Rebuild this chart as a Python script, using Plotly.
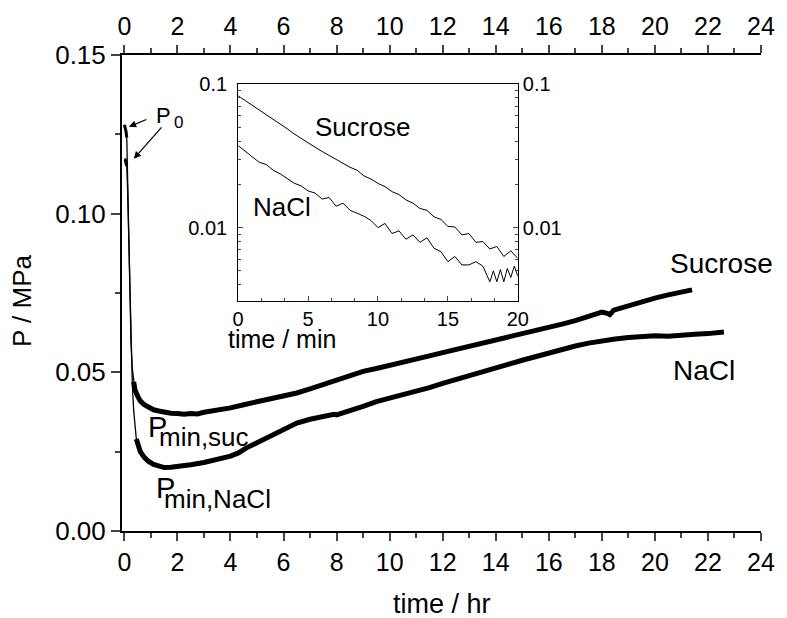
import plotly.graph_objects as go

# ---------------- main panel data (time in hr, P in MPa) ----------------
suc_t = [0.00, 0.03, 0.06, 0.09, 0.12, 0.15, 0.18, 0.21, 0.25, 0.30, 0.35, 0.40, 0.50, 0.60,
         0.75, 0.90, 1.10, 1.30, 1.50, 1.75, 2.00, 2.25, 2.50, 2.75, 3.00, 3.50, 4.00, 4.50,
         5.00, 5.50, 6.00, 6.50, 7.00, 7.50, 8.00, 8.50, 9.00, 9.50, 10.0, 10.5, 11.0, 11.5,
         12.0, 12.5, 13.0, 13.5, 14.0, 14.5, 15.0, 15.5, 16.0, 16.5, 17.0, 17.5, 18.0, 18.2,
         18.3, 18.45, 19.0, 19.5, 20.0, 20.5, 21.0, 21.4]
suc_p = [0.128, 0.127, 0.126, 0.124, 0.112, 0.098, 0.083, 0.070, 0.059, 0.051, 0.047, 0.0445,
         0.0425, 0.0410, 0.0398, 0.0390, 0.0382, 0.0378, 0.0374, 0.0371, 0.0370, 0.0368,
         0.0370, 0.0369, 0.0374, 0.0380, 0.0388, 0.0398, 0.0407, 0.0415, 0.0425, 0.0435,
         0.0448, 0.0462, 0.0478, 0.0492, 0.0503, 0.0512, 0.0521, 0.0532, 0.0543, 0.0552,
         0.0562, 0.0572, 0.0581, 0.0592, 0.0600, 0.0610, 0.0619, 0.0630, 0.0640, 0.0652,
         0.0663, 0.0675, 0.0690, 0.0686, 0.0682, 0.0696, 0.0710, 0.0724, 0.0734, 0.0744,
         0.0752, 0.0760]

nacl_t = [0.00, 0.03, 0.06, 0.09, 0.12, 0.15, 0.18, 0.21, 0.25, 0.30, 0.35, 0.40, 0.45, 0.50,
          0.60, 0.75, 0.90, 1.10, 1.30, 1.50, 1.75, 2.00, 2.50, 3.00, 3.50, 4.00, 4.30, 4.60,
          5.00, 5.50, 6.00, 6.50, 7.00, 7.50, 7.90, 8.00, 8.50, 9.00, 9.50, 10.0, 10.5, 11.0,
          11.5, 12.0, 12.5, 13.0, 13.5, 14.0, 14.5, 15.0, 15.5, 16.0, 16.5, 17.0, 17.5, 18.0,
          18.5, 19.0, 19.5, 20.0, 20.5, 21.0, 21.5, 22.0, 22.6]
nacl_p = [0.117, 0.117, 0.116, 0.115, 0.108, 0.098, 0.085, 0.072, 0.058, 0.046, 0.038, 0.032,
          0.029, 0.0272, 0.0250, 0.0232, 0.0220, 0.0210, 0.0204, 0.0200, 0.0201, 0.0203,
          0.0209, 0.0216, 0.0225, 0.0236, 0.0246, 0.0262, 0.0278, 0.0298, 0.0318, 0.0340,
          0.0352, 0.0362, 0.0368, 0.0366, 0.0378, 0.0393, 0.0408, 0.0418, 0.0428, 0.0440,
          0.0452, 0.0465, 0.0478, 0.0490, 0.0502, 0.0514, 0.0526, 0.0538, 0.0550, 0.0562,
          0.0573, 0.0583, 0.0592, 0.0600, 0.0605, 0.0610, 0.0613, 0.0615, 0.0614, 0.0618,
          0.0620, 0.0622, 0.0627]

# ---------------- inset data (time in min, P in MPa, log scale) ----------------
ins_suc_t = [0, 0.5, 1, 1.5, 2, 2.5, 3, 3.5, 4, 4.5, 5, 5.5, 6, 6.5, 7, 7.5, 8, 8.5, 9, 9.5,
             10, 10.5, 11, 11.5, 12, 12.5, 13, 13.5, 14, 14.5, 15, 15.5, 16, 16.5, 17, 17.5,
             18, 18.5, 19, 19.5, 20]
ins_suc_p = [0.0826, 0.0767, 0.0711, 0.0661, 0.0614, 0.0569, 0.0525, 0.0488, 0.0449, 0.0417,
             0.0387, 0.0363, 0.0339, 0.0318, 0.0299, 0.0283, 0.0263, 0.0251, 0.0229, 0.0218,
             0.0203, 0.0193, 0.0178, 0.0170, 0.0156, 0.0148, 0.0136, 0.0132, 0.0119, 0.0114,
             0.0102, 0.0101, 0.0089, 0.0091, 0.0079, 0.0080, 0.0071, 0.0074, 0.0063, 0.0069,
             0.0061]
ins_nacl_t = [0, 0.5, 1, 1.5, 2, 2.5, 3, 3.5, 4, 4.5, 5, 5.5, 6, 6.5, 7, 7.5, 8, 8.5, 9, 9.5,
              10, 10.5, 11, 11.5, 12, 12.5, 13, 13.5, 14, 14.5, 15, 15.5, 16, 16.5, 17, 17.5,
              18, 18.25, 18.5, 18.75, 19, 19.25, 19.5, 19.75, 20]
ins_nacl_p = [0.0372, 0.0339, 0.0313, 0.0285, 0.0275, 0.0251, 0.0237, 0.0219, 0.0204, 0.0195,
              0.0180, 0.0174, 0.0158, 0.0162, 0.0141, 0.0148, 0.0132, 0.0126, 0.0120, 0.0112,
              0.0100, 0.0107, 0.0091, 0.0095, 0.0083, 0.0089, 0.0079, 0.0085, 0.0072, 0.0068,
              0.0058, 0.0063, 0.0055, 0.0055, 0.0058, 0.0054, 0.0042, 0.0050, 0.0042, 0.0051,
              0.0042, 0.0052, 0.0045, 0.0054, 0.0046]

x_tick_vals = list(range(0, 25, 2))
y_tick_vals = [0.00, 0.05, 0.10, 0.15]
inset_x_ticks = [0, 5, 10, 15, 20]
inset_y_ticks = [0.01, 0.1]
inset_y_labels = ["0.01", "0.1"]

FONT = "Liberation Sans, Arial, sans-serif"
W, H = 787, 618
L, R, T, B = 122, 771, 54, 531


def px2paper(px, py):
    return (px - L) / (R - L), (B - py) / (B - T)


fig = go.Figure()
line_col = "black"
suc_cut = next(i for i, t in enumerate(suc_t) if t >= 0.35)
nacl_cut = next(i for i, t in enumerate(nacl_t) if t >= 0.45)
fig.add_trace(go.Scatter(x=suc_t, y=suc_p, mode="lines", line=dict(color=line_col, width=1.3),
                         hoverinfo="skip"))
fig.add_trace(go.Scatter(x=suc_t[suc_cut:], y=suc_p[suc_cut:], mode="lines",
                         line=dict(color=line_col, width=5), hoverinfo="skip"))
fig.add_trace(go.Scatter(x=suc_t[:4], y=suc_p[:4], mode="lines",
                         line=dict(color=line_col, width=3), hoverinfo="skip"))
fig.add_trace(go.Scatter(x=nacl_t, y=nacl_p, mode="lines", line=dict(color=line_col, width=1.3),
                         hoverinfo="skip"))
fig.add_trace(go.Scatter(x=nacl_t[nacl_cut:], y=nacl_p[nacl_cut:], mode="lines",
                         line=dict(color=line_col, width=5), hoverinfo="skip"))
fig.add_trace(go.Scatter(x=nacl_t[:4], y=nacl_p[:4], mode="lines",
                         line=dict(color=line_col, width=3), hoverinfo="skip"))
# carrier for the top axis
fig.add_trace(go.Scatter(x=suc_t, y=suc_p, xaxis="x2", yaxis="y", mode="lines",
                         line=dict(width=0), opacity=0, hoverinfo="skip"))
# inset
fig.add_trace(go.Scatter(x=ins_suc_t, y=ins_suc_p, xaxis="x3", yaxis="y3", mode="lines",
                         line=dict(color=line_col, width=1), hoverinfo="skip"))
fig.add_trace(go.Scatter(x=ins_nacl_t, y=ins_nacl_p, xaxis="x3", yaxis="y3", mode="lines",
                         line=dict(color=line_col, width=1), hoverinfo="skip"))
fig.add_trace(go.Scatter(x=ins_suc_t, y=ins_suc_p, xaxis="x3", yaxis="y4", mode="lines",
                         line=dict(width=0), opacity=0, hoverinfo="skip"))

tick_font = dict(family=FONT, size=25, color="black")
ytick_font = dict(family=FONT, size=26, color="black")
inset_font = dict(family=FONT, size=20, color="black")

x0 = -0.09
fig.update_layout(
    width=W, height=H, showlegend=False,
    paper_bgcolor="white", plot_bgcolor="white",
    margin=dict(l=L, r=W - R, t=T, b=H - B, pad=0),
    font=dict(family=FONT, color="black"),
    xaxis=dict(range=[x0, 24], tickvals=x_tick_vals, ticks="outside", ticklen=8, tickwidth=2,
               showline=True, linewidth=2, linecolor="black", showgrid=False, zeroline=False,
               tickfont=tick_font, minor=dict(ticks="outside", ticklen=5, tickwidth=2,
                                              dtick=1, tick0=0, showgrid=False),
               domain=[0, 1], anchor="y"),
    xaxis2=dict(range=[x0, 24], tickvals=x_tick_vals, ticks="outside", ticklen=8, tickwidth=2,
                showline=True, linewidth=2, linecolor="black", showgrid=False, zeroline=False,
                tickfont=tick_font, overlaying="x", side="top", anchor="y",
                minor=dict(ticks="outside", ticklen=5, tickwidth=2, dtick=1, tick0=0,
                           showgrid=False)),
    yaxis=dict(range=[0, 0.15], tickvals=y_tick_vals, tickformat=".2f", ticks="outside",
               ticklen=9, tickwidth=2, showline=True, linewidth=2, linecolor="black",
               showgrid=False, zeroline=False, tickfont=ytick_font, domain=[0, 1], anchor="x",
               minor=dict(ticks="outside", ticklen=5, tickwidth=2, dtick=0.025, tick0=0,
                          showgrid=False)),
)

ix0, iy0 = px2paper(240, 301)
ix1, iy1 = px2paper(524, 83)
fig.update_layout(
    xaxis3=dict(domain=[ix0, ix1], anchor="y3", range=[0, 20], tickvals=inset_x_ticks,
                ticks="inside", ticklen=5, tickwidth=1, showline=True, linewidth=1,
                linecolor="black", mirror=True, showgrid=False, zeroline=False,
                tickfont=inset_font,
                minor=dict(ticks="inside", ticklen=3, dtick=5 / 3, tick0=0, showgrid=False)),
    yaxis3=dict(domain=[iy0, iy1], anchor="x3", type="log",
                range=[-2.514, -1.0], tickvals=inset_y_ticks, ticktext=inset_y_labels,
                ticks="inside", ticklen=5, tickwidth=1, showline=True, linewidth=1,
                linecolor="black", mirror="allticks", showgrid=False, zeroline=False,
                tickfont=inset_font, ticklabelstandoff=6,
                minor=dict(ticks="inside", ticklen=3, dtick="D1", showgrid=False)),
    yaxis4=dict(overlaying="y3", side="right", anchor="x3", type="log",
                range=[-2.514, -1.0], tickvals=inset_y_ticks, ticktext=inset_y_labels,
                ticks="", showline=False, showgrid=False, zeroline=False, tickfont=inset_font,
                ticklabelstandoff=4),
)

annotations = []


def add_text(text, px, py, size=26, xanchor="center", angle=0):
    ax_, ay_ = px2paper(px, py)
    annotations.append(dict(text=text, x=ax_, y=ay_, xref="paper", yref="paper",
                            showarrow=False, xanchor=xanchor, yanchor="middle",
                            textangle=angle,
                            font=dict(family=FONT, size=size, color="black")))


add_text("time / hr", 447, 604, size=27)
add_text("P / MPa", 21, 300, size=26, angle=-90)
add_text("time / min", 285, 339, size=25)
add_text("Sucrose", 366, 126, size=26)
add_text("NaCl", 285, 206, size=26)
add_text("Sucrose", 731, 263, size=28)
add_text("NaCl", 713, 370, size=28)
# P0 with subscript
add_text("P", 154, 115, size=22, xanchor="left")
add_text("0", 173, 122, size=17, xanchor="left")
# P_min,suc
add_text("P", 146, 427, size=29, xanchor="left")
add_text("min,suc", 158, 437, size=26, xanchor="left")
# P_min,NaCl
add_text("P", 155, 488, size=29, xanchor="left")
add_text("min,NaCl", 163, 499, size=26, xanchor="left")


def add_arrow(head_px, head_py, tail_px, tail_py):
    hx, hy = px2paper(head_px, head_py)
    annotations.append(dict(text="", x=hx, y=hy, xref="paper", yref="paper",
                            ax=tail_px - head_px, ay=tail_py - head_py, showarrow=True,
                            arrowhead=2, arrowsize=1.2, arrowwidth=1.2, arrowcolor="black"))


add_arrow(129, 126, 148, 118)
add_arrow(134, 158, 163, 125)

fig.update_layout(annotations=annotations)
fig.write_html("out.html", config={"displayModeBar": False},
               post_script="document.body.style.margin='0px';")
